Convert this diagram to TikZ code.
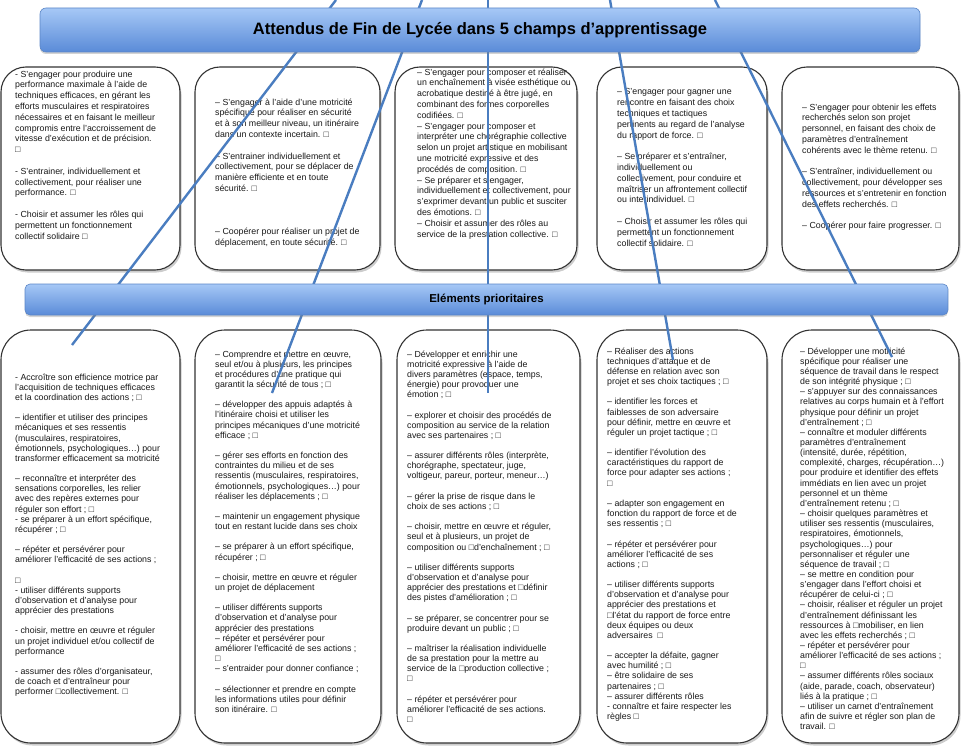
\documentclass[tikz,border=0pt]{standalone}
\usepackage{fontspec}
\setmainfont{Liberation Sans}
\usetikzlibrary{shadows}

\definecolor{trait}{HTML}{4A7DC0}
\definecolor{barhaut}{HTML}{A6C8F6}
\definecolor{barbas}{HTML}{5A8BD8}
\definecolor{barbord}{HTML}{5B86C6}
\newcommand\saut{\\[\baselineskip]}

\tikzset{
  champ/.style={draw=black!80, line width=1.1pt, fill=white, rounded corners=25pt,
    drop shadow={opacity=0.4, shadow xshift=1.5pt, shadow yshift=-2.5pt}},
  prio/.style={champ, rounded corners=30pt},
  haut/.style={anchor=north west, inner sep=0pt, align=left, text=black!90,
    font=\fontsize{8.8}{10.8}\selectfont},
  bas/.style={haut, font=\fontsize{8.8}{10.15}\selectfont},
  bandeau/.style={draw=barbord, line width=0.6pt, rounded corners=6pt,
    top color=barhaut, bottom color=barbas, font=\bfseries,
    drop shadow={opacity=0.35, shadow xshift=0pt, shadow yshift=-2pt}},
  lien/.style={trait, line width=2.4pt}
}

\begin{document}
\begin{tikzpicture}[x=1pt,y=-1pt]
\useasboundingbox (0,0) rectangle (961,746);

\node[champ, minimum width=179pt, minimum height=203pt] (h1) at (90.5,168.5) {};
\node[champ, minimum width=185pt, minimum height=203pt] (h2) at (287.5,168.5) {};
\node[champ, minimum width=182pt, minimum height=203pt] (h3) at (486,168.5) {};
\node[champ, minimum width=170pt, minimum height=203pt] (h4) at (682,168.5) {};
\node[champ, minimum width=177pt, minimum height=203pt] (h5) at (870.5,168.5) {};

\node[prio, minimum width=179pt, minimum height=413pt] (b1) at (90.5,536.5) {};
\node[prio, minimum width=186pt, minimum height=413pt] (b2) at (288,536.5) {};
\node[prio, minimum width=183pt, minimum height=413pt] (b3) at (488.5,536.5) {};
\node[prio, minimum width=170pt, minimum height=413pt] (b4) at (682,536.5) {};
\node[prio, minimum width=177pt, minimum height=413pt] (b5) at (870.5,536.5) {};

\node[haut] (th1) at (15,70.5) {- S'engager pour produire une\\
performance maximale à l'aide de\\
techniques efficaces, en gérant les\\
efforts musculaires et respiratoires\\
nécessaires et en faisant le meilleur\\
compromis entre l'accroissement de\\
vitesse d'exécution et de précision.\\
□\saut
- S'entrainer, individuellement et\\
collectivement, pour réaliser une\\
performance. □\saut
- Choisir et assumer les rôles qui\\
permettent un fonctionnement\\
collectif solidaire □};

\node[haut] (th2) at (215,98.5) {– S'engager à l'aide d'une motricité\\
spécifique pour réaliser en sécurité\\
et à son meilleur niveau, un itinéraire\\
dans un contexte incertain. □\saut
– S'entrainer individuellement et\\
collectivement, pour se déplacer de\\
manière efficiente et en toute\\
sécurité. □\saut\saut
– Coopérer pour réaliser un projet de\\
déplacement, en toute sécurité. □};

\node[haut] (th3) at (417,68.5) {– S'engager pour composer et réaliser\\
un enchaînement à visée esthétique ou\\
acrobatique destiné à être jugé, en\\
combinant des formes corporelles\\
codifiées. □\\
– S'engager pour composer et\\
interpréter une chorégraphie collective\\
selon un projet artistique en mobilisant\\
une motricité expressive et des\\
procédés de composition. □\\
– Se préparer et s'engager,\\
individuellement et collectivement, pour\\
s'exprimer devant un public et susciter\\
des émotions. □\\
– Choisir et assumer des rôles au\\
service de la prestation collective. □};

\node[haut] (th4) at (617,88.5) {– S'engager pour gagner une\\
rencontre en faisant des choix\\
techniques et tactiques\\
pertinents au regard de l'analyse\\
du rapport de force. □\saut
– Se préparer et s'entraîner,\\
individuellement ou\\
collectivement, pour conduire et\\
maîtriser un affrontement collectif\\
ou interindividuel. □\saut
– Choisir et assumer les rôles qui\\
permettent un fonctionnement\\
collectif solidaire. □};

\node[haut] (th5) at (802,103.5) {– S'engager pour obtenir les effets\\
recherchés selon son projet\\
personnel, en faisant des choix de\\
paramètres d'entraînement\\
cohérents avec le thème retenu. □\saut
– S'entraîner, individuellement ou\\
collectivement, pour développer ses\\
ressources et s'entretenir en fonction\\
des effets recherchés. □\saut
– Coopérer pour faire progresser. □};

\node[bas] (tb1) at (15,373.5) {- Accroître son efficience motrice par\\
l'acquisition de techniques efficaces\\
et la coordination des actions ; □\saut
– identifier et utiliser des principes\\
mécaniques et ses ressentis\\
(musculaires, respiratoires,\\
émotionnels, psychologiques…) pour\\
transformer efficacement sa motricité\saut
– reconnaître et interpréter des\\
sensations corporelles, les relier\\
avec des repères externes pour\\
réguler son effort ; □\\
- se préparer à un effort spécifique,\\
récupérer ; □\saut
– répéter et persévérer pour\\
améliorer l'efficacité de ses actions ;\saut
□\\
- utiliser différents supports\\
d'observation et d'analyse pour\\
apprécier des prestations\saut
- choisir, mettre en œuvre et réguler\\
un projet individuel et/ou collectif de\\
performance\saut
- assumer des rôles d'organisateur,\\
de coach et d'entraîneur pour\\
performer □collectivement. □};

\node[bas] (tb2) at (215,350.5) {– Comprendre et mettre en œuvre,\\
seul et/ou à plusieurs, les principes\\
et procédures d'une pratique qui\\
garantit la sécurité de tous ; □\saut
– développer des appuis adaptés à\\
l'itinéraire choisi et utiliser les\\
principes mécaniques d'une motricité\\
efficace ; □\saut
– gérer ses efforts en fonction des\\
contraintes du milieu et de ses\\
ressentis (musculaires, respiratoires,\\
émotionnels, psychologiques…) pour\\
réaliser les déplacements ; □\saut
– maintenir un engagement physique\\
tout en restant lucide dans ses choix\saut
– se préparer à un effort spécifique,\\
récupérer ; □\saut
– choisir, mettre en œuvre et réguler\\
un projet de déplacement\saut
– utiliser différents supports\\
d'observation et d'analyse pour\\
apprécier des prestations\\
– répéter et persévérer pour\\
améliorer l'efficacité de ses actions ;\\
□\\
– s'entraider pour donner confiance ;\saut
– sélectionner et prendre en compte\\
les informations utiles pour définir\\
son itinéraire. □};

\node[bas] (tb3) at (407,350.5) {– Développer et enrichir une\\
motricité expressive à l'aide de\\
divers paramètres (espace, temps,\\
énergie) pour provoquer une\\
émotion ; □\saut
– explorer et choisir des procédés de\\
composition au service de la relation\\
avec ses partenaires ; □\saut
– assurer différents rôles (interprète,\\
chorégraphe, spectateur, juge,\\
voltigeur, pareur, porteur, meneur…)\saut
– gérer la prise de risque dans le\\
choix de ses actions ; □\saut
– choisir, mettre en œuvre et réguler,\\
seul et à plusieurs, un projet de\\
composition ou □d'enchaînement ; □\saut
– utiliser différents supports\\
d'observation et d'analyse pour\\
apprécier des prestations et □définir\\
des pistes d'amélioration ; □\saut
– se préparer, se concentrer pour se\\
produire devant un public ; □\saut
– maîtriser la réalisation individuelle\\
de sa prestation pour la mettre au\\
service de la □production collective ;\\
□\saut
– répéter et persévérer pour\\
améliorer l'efficacité de ses actions.\\
□};

\node[bas] (tb4) at (607,347.5) {– Réaliser des actions\\
techniques d'attaque et de\\
défense en relation avec son\\
projet et ses choix tactiques ; □\saut
– identifier les forces et\\
faiblesses de son adversaire\\
pour définir, mettre en œuvre et\\
réguler un projet tactique ; □\saut
– identifier l'évolution des\\
caractéristiques du rapport de\\
force pour adapter ses actions ;\\
□\saut
– adapter son engagement en\\
fonction du rapport de force et de\\
ses ressentis ; □\saut
– répéter et persévérer pour\\
améliorer l'efficacité de ses\\
actions ; □\saut
– utiliser différents supports\\
d'observation et d'analyse pour\\
apprécier des prestations et\\
□l'état du rapport de force entre\\
deux équipes ou deux\\
adversaires \ □\saut
– accepter la défaite, gagner\\
avec humilité ; □\\
– être solidaire de ses\\
partenaires ; □\\
– assurer différents rôles\\
- connaître et faire respecter les\\
règles □};

\node[bas] (tb5) at (800,347.5) {– Développer une motricité\\
spécifique pour réaliser une\\
séquence de travail dans le respect\\
de son intégrité physique ; □\\
– s'appuyer sur des connaissances\\
relatives au corps humain et à l'effort\\
physique pour définir un projet\\
d'entraînement ; □\\
– connaître et moduler différents\\
paramètres d'entraînement\\
(intensité, durée, répétition,\\
complexité, charges, récupération…)\\
pour produire et identifier des effets\\
immédiats en lien avec un projet\\
personnel et un thème\\
d'entraînement retenu ; □\\
– choisir quelques paramètres et\\
utiliser ses ressentis (musculaires,\\
respiratoires, émotionnels,\\
psychologiques…) pour\\
personnaliser et réguler une\\
séquence de travail ; □\\
– se mettre en condition pour\\
s'engager dans l'effort choisi et\\
récupérer de celui-ci ; □\\
– choisir, réaliser et réguler un projet\\
d'entraînement définissant les\\
ressources à □mobiliser, en lien\\
avec les effets recherchés ; □\\
– répéter et persévérer pour\\
améliorer l'efficacité de ses actions ;\\
□\\
– assumer différents rôles sociaux\\
(aide, parade, coach, observateur)\\
liés à la pratique ; □\\
– utiliser un carnet d'entraînement\\
afin de suivre et régler son plan de\\
travail. □};

\coordinate (hautA) at (336,0);
\coordinate (hautB) at (422,0);
\coordinate (hautC) at (488,0);
\coordinate (hautD) at (610,0);
\coordinate (hautE) at (715,0);
\coordinate (finA) at (72,345);
\coordinate (finB) at (272,393);
\coordinate (finC) at (488,393);
\coordinate (finD) at (673,360);
\coordinate (finE) at (892,357);
\draw[lien] (hautA) -- (finA);
\draw[lien] (hautB) -- (finB);
\draw[lien] (hautC) -- (finC);
\draw[lien] (hautD) -- (finD);
\draw[lien] (hautE) -- (finE);

\node[bandeau, minimum width=880pt, minimum height=44pt, font=\fontsize{16.5}{18}\bfseries] (titre) at (480,30) {Attendus de Fin de Lycée dans 5 champs d’apprentissage};
\node[bandeau, minimum width=923pt, minimum height=31pt, rounded corners=5pt, font=\fontsize{11.5}{13}\bfseries] (elements) at (486.5,299.5) {Eléments prioritaires};
\end{tikzpicture}
\end{document}
